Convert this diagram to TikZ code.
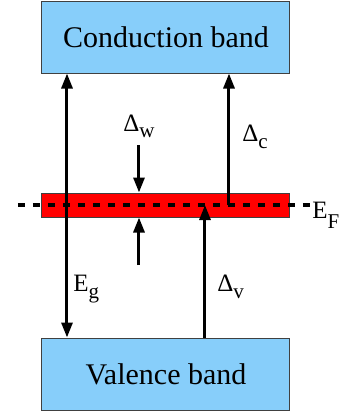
\documentclass[tikz,border=0pt]{standalone}
\usepackage{fontspec}
\setmainfont{Liberation Serif}
\usetikzlibrary{arrows.meta,positioning}
\definecolor{bandc}{HTML}{87CEFA}
\definecolor{edgec}{HTML}{404040}
\definecolor{fermic}{HTML}{FF0000}
\newcommand{\lowsub}[2][3.5pt]{\raisebox{-#1}{\fontsize{10.5}{12}\selectfont #2}}
\tikzset{
  band/.style={draw=edgec,line width=0.5pt,fill=bandc,minimum width=124pt,minimum height=36pt,inner sep=0pt,font=\fontsize{15}{18}\selectfont},
  layer/.style={draw=edgec,line width=0.5pt,fill=fermic,minimum width=124pt,minimum height=12pt,inner sep=0pt},
  ar/.style={line width=1.5pt},
  fermiline/.style={line width=1.6pt,dash pattern=on 3.75pt off 3.75pt},
  lbl/.style={font=\fontsize{12.5}{15}\selectfont,inner sep=0pt,anchor=base west}
}
\begin{document}
\begin{tikzpicture}[x=0.5pt,y=-0.5pt,>={Triangle[length=7.5pt,width=5.5pt]}]
\useasboundingbox (0,0) rectangle (345,414);
% bands
\node[band] (cb) at (166,37) {Conduction band};
\node[band] (vb) at (166,374) {Valence band};
\node[layer] (fb) at (166,205) {};
% Fermi level
\coordinate (fl) at (18,205);
\node[lbl] (ef) at (312,218) {E\lowsub[5pt]{F}};
\draw[fermiline] (fl) -- (fl -| ef.west);
% gaps
\coordinate (egx) at (67,205);
\coordinate (dcx) at (229,205);
\coordinate (dvx) at (205,205);
\coordinate (wtop) at (139,145);
\coordinate (wbot) at (139,265);
\draw[ar,<->] (cb.south -| egx) -- (vb.north -| egx);
\draw[ar,->] (dcx) -- (cb.south -| dcx);
\draw[ar,->] (vb.north -| dvx) -- (dvx);
\draw[ar,->] (wtop) -- (fb.north -| wtop);
\draw[ar,->] (wbot) -- (fb.south -| wbot);
% labels
\node[lbl] (dw) at (123,131) {Δ\lowsub[3pt]{w}};
\node[lbl] (dc) at (242,141) {Δ\lowsub{c}};
\node[lbl] (eg) at (73,291) {E\lowsub{g}};
\node[lbl] (dv) at (217,291) {Δ\lowsub{v}};
\end{tikzpicture}
\end{document}
